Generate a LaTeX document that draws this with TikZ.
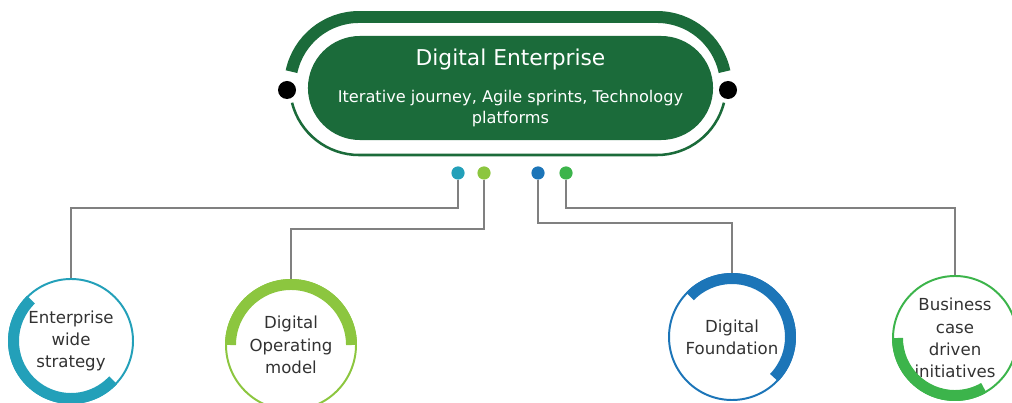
\documentclass[tikz,border=0pt]{standalone}
\usepackage{fontspec}
\setmainfont{DejaVu Sans}
\definecolor{deepgreen}{RGB}{27,107,58}
\definecolor{tealc}{RGB}{35,160,185}
\definecolor{limec}{RGB}{140,198,63}
\definecolor{bluec}{RGB}{28,117,184}
\definecolor{greenc}{RGB}{60,180,75}
\definecolor{linkgray}{RGB}{128,128,128}
\definecolor{textgray}{RGB}{50,50,50}
\begin{document}
\begin{tikzpicture}[x=0.025cm, y=0.025cm,
    link/.style={draw=linkgray, line width=1.8pt},
    pin/.style={circle, inner sep=0pt, minimum size=0.33cm},
    topic/.style={circle, inner sep=0pt, minimum size=#1, align=center,
      text=textgray, font=\fontsize{11.8}{15.8}\selectfont},
    thin ring/.style={line width=1.4pt},
    thick ring/.style={line width=7.8pt}]
  \useasboundingbox (0,0) rectangle (1012,402);
  % Central stadium
  \node[fill=deepgreen, rounded corners=1.3cm, minimum width=10.125cm,
    minimum height=2.6cm, text=white, align=center,
    font=\fontsize{11.5}{15}\selectfont] (de) at (510.5,314)
    {{\fontsize{15.5}{18}\selectfont Digital Enterprise}\\[11pt]
     Iterative journey, Agile sprints, Technology\\ platforms};
  % Outer ring, thick on top and thin below
  \draw[line width=8.5pt, deepgreen] (359,316) ++(168:69)
    arc[start angle=168, end angle=90, radius=69] -- (657,385)
    arc[start angle=90, end angle=12, radius=69];
  \draw[line width=1.8pt, deepgreen] (359,316) ++(194:69)
    arc[start angle=194, end angle=270, radius=69] -- (657,247)
    arc[start angle=270, end angle=346, radius=69];
  % Black dots on the ring
  \node[circle, fill=black, inner sep=0pt, minimum size=0.45cm] (ldot) at (287,312) {};
  \node[circle, fill=black, inner sep=0pt, minimum size=0.45cm] (rdot) at (728,312) {};
  % Coloured pins below
  \foreach \n/\x/\c in {pa/458/tealc, pb/484/limec, pc/538/bluec, pd/566/greenc}{
    \node[pin, fill=\c] (\n) at (\x,229) {};
  }
  % Topic circles
  \node[topic=3.15cm] (ews) at (71,61) {Enterprise\\wide\\strategy};
  \node[topic=3.3cm] (dom) at (291,57) {Digital\\Operating\\model};
  \node[topic=3.2cm] (dfn) at (732,65) {Digital\\Foundation};
  \node[topic=3.15cm] (bci) at (955,64) {Business\\case\\driven\\initiatives};
  % Rings round the topics
  \draw[thin ring, tealc] (ews) circle[radius=62];
  \draw[thick ring, tealc] (ews) ++(134:57.5) arc[start angle=134, end angle=317, radius=57.5];
  \draw[thin ring, limec] (dom) circle[radius=65];
  \draw[thick ring, limec] (dom) ++(0:60.5) arc[start angle=0, end angle=180, radius=60.5];
  \draw[thin ring, bluec] (dfn) circle[radius=63];
  \draw[thick ring, bluec] (dfn) ++(-44:58.5) arc[start angle=-44, end angle=136, radius=58.5];
  \draw[thin ring, greenc] (bci) circle[radius=62];
  \draw[thick ring, greenc] (bci) ++(180:57.5) arc[start angle=180, end angle=300, radius=57.5];
  % Connectors
  \draw[link] (pa) -- ++(0,-35) -| (ews);
  \draw[link] (pb) -- ++(0,-56) -| (dom);
  \draw[link] (pc) -- ++(0,-50) -| (dfn);
  \draw[link] (pd) -- ++(0,-35) -| (bci);
\end{tikzpicture}
\end{document}
